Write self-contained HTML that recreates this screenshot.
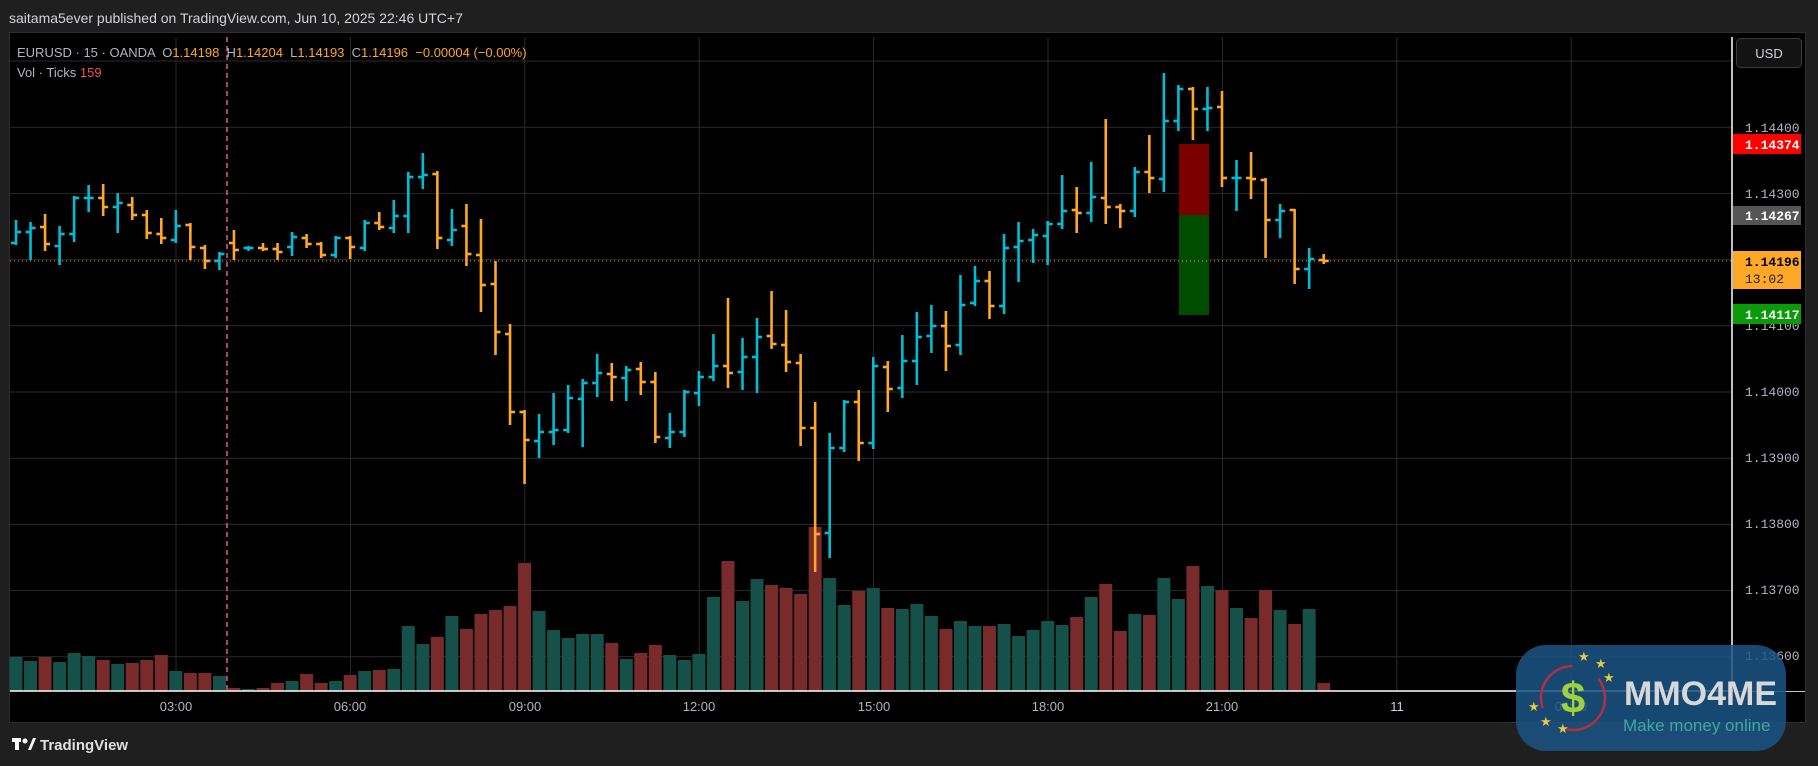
<!DOCTYPE html>
<html><head><meta charset="utf-8"><style>
html,body{margin:0;padding:0;background:#1f1f1f;}
body{width:1818px;height:766px;overflow:hidden;position:relative;font-family:"Liberation Sans",sans-serif;}
svg{position:absolute;left:0;top:0;}
</style></head><body>
<svg id="s" width="1818" height="766" viewBox="0 0 1818 766" xmlns="http://www.w3.org/2000/svg" font-family="Liberation Sans, sans-serif">
<rect x="0" y="0" width="1818" height="766" fill="#1f1f1f"/>
<text x="9" y="23" font-size="14" fill="#d1d4dc">saitama5ever published on TradingView.com, Jun 10, 2025 22:46 UTC+7</text>
<rect x="9.5" y="32.5" width="1796" height="690" fill="#000" stroke="#2e2e2e"/>
<g id="grid" stroke="#2a2a2a" stroke-width="1"></g>
<line x1="227" y1="37" x2="227" y2="691" stroke="#e0608a" stroke-width="1.5" stroke-dasharray="5,4"/>
<g id="vol"></g>
<rect x="1179" y="144" width="30" height="71" fill="#7a0000"/>
<rect x="1179" y="215" width="30" height="100" fill="#004d00"/>
<line x1="10" y1="261" x2="1732" y2="261" stroke="#ffa726" stroke-width="1" stroke-dasharray="1,3"/>
<g id="bars" stroke-width="2.6"></g>
<line x1="10" y1="691" x2="1805" y2="691" stroke="#ffffff" stroke-width="1.5"/>
<line x1="1732" y1="37" x2="1732" y2="691" stroke="#ffffff" stroke-width="1.5"/>
<rect x="1733" y="37" width="72" height="654" fill="#000"/>
<rect x="1736.5" y="38.5" width="65" height="29" rx="4" fill="#131313" stroke="#3a3a3a"/>
<text x="1769" y="58" font-size="13" fill="#d1d4dc" text-anchor="middle">USD</text>
<g font-size="13" fill="#b2b5be" font-family="Liberation Mono, monospace">
<text x="1745" y="132">1.14400</text>
<text x="1745" y="198">1.14300</text>
<text x="1745" y="330">1.14100</text>
<text x="1745" y="396">1.14000</text>
<text x="1745" y="462">1.13900</text>
<text x="1745" y="528">1.13800</text>
<text x="1745" y="594">1.13700</text>
<text x="1745" y="660">1.13600</text>
</g>
<g font-size="13" font-weight="bold" font-family="Liberation Mono, monospace">
<rect x="1733" y="134" width="68" height="20" fill="#f00"/><text x="1745" y="149" fill="#fff">1.14374</text>
<rect x="1733" y="206" width="68" height="19" fill="#555"/><text x="1745" y="220" fill="#fff">1.14267</text>
<rect x="1733" y="251" width="68" height="38" fill="#ffa726"/><text x="1745" y="266" fill="#000">1.14196</text><text x="1745" y="283" fill="#222" font-weight="normal">13:02</text>
<rect x="1733" y="304" width="68" height="20" fill="#0a9a0a"/><text x="1745" y="319" fill="#fff">1.14117</text>
</g>
<g font-size="13" fill="#b2b5be" text-anchor="middle">
<text x="176" y="711">03:00</text><text x="350" y="711">06:00</text><text x="525" y="711">09:00</text><text x="699" y="711">12:00</text><text x="874" y="711">15:00</text><text x="1048" y="711">18:00</text><text x="1222" y="711">21:00</text><text x="1397" y="711" fill="#d1d4dc">11</text><text x="1571" y="711">03:00</text>
</g>
<text x="17" y="57" font-size="13" fill="#b2b5be" xml:space="preserve">EURUSD · 15 · OANDA  O<tspan fill="#ffa726">1.14198</tspan>  H<tspan fill="#ffa726">1.14204</tspan>  L<tspan fill="#ffa726">1.14193</tspan>  C<tspan fill="#ffa726">1.14196</tspan>  <tspan fill="#ffa726">−0.00004 (−0.00%)</tspan></text>
<text x="17" y="77" font-size="13" fill="#b2b5be">Vol · Ticks <tspan fill="#f05350">159</tspan></text>
<g transform="translate(12,736)">
<rect x="0" y="2" width="9" height="4" fill="#fff"/><rect x="3" y="2" width="4" height="12" fill="#fff"/><circle cx="13" cy="5" r="2.5" fill="#fff"/><path d="M16 14 L21 2 L24 2 L19 14Z" fill="#fff"/>
<text x="28" y="14" font-size="15" font-weight="bold" fill="#e0e0e0">TradingView</text>
</g>
<g>
<rect x="1516" y="645" width="270" height="106" rx="30" fill="#1a5585" fill-opacity="0.85"/>
<circle cx="1573" cy="698" r="32" fill="none" stroke="#b03040" stroke-width="2.5" stroke-dasharray="60,30"/>
<text x="1573" y="713" font-size="44" font-weight="bold" fill="#9fd23a" text-anchor="middle">$</text>
<g fill="#e8c840" font-size="13"><text x="1578" y="661">★</text><text x="1595" y="668">★</text><text x="1603" y="682">★</text><text x="1528" y="711">★</text><text x="1540" y="726">★</text><text x="1557" y="733">★</text></g>
<text x="1624" y="705" font-size="34" font-weight="bold" fill="#d8d8d8">MMO4ME</text>
<text x="1623" y="731" font-size="17" fill="#3fa8a0">Make money online</text>
</g>
</svg>
<script>
(function(){
var NS="http://www.w3.org/2000/svg";
function el(p,t,a){var e=document.createElementNS(NS,t);for(var k in a)e.setAttribute(k,a[k]);p.appendChild(e);return e;}
var g=document.getElementById('grid');
for(var y=61;y<691;y+=66.2)el(g,'line',{x1:10,x2:1732,y1:y,y2:y});
for(var i=0;i<9;i++){var x=176+i*174.4;el(g,'line',{x1:x,x2:x,y1:37,y2:691});}
var D=[[221,244,243,232],[223,259,232,228],[215,250,227,244],[227,264,246,234],[197,241,234,198],[186,211,198,198],[185,215,198,207],[194,232,207,203],[198,219,205,215],[211,238,215,233],[219,243,234,238],[211,242,240,226],[224,259,225,247],[246,268,248,261],[253,269,261,254],[231,259,243,250],[247,250,248,248],[244,250,248,249],[244,259,249,252],[233,255,247,237],[235,247,238,244],[243,257,244,255],[237,257,255,238],[237,258,238,247],[221,250,248,223],[213,229,223,227],[201,232,228,216],[173,232,216,177],[154,188,177,175],[172,248,174,238],[210,245,240,230],
[205,265,226,254],[220,311,255,285],[262,354,284,332],[325,424,334,412],[411,483,412,440],[415,457,441,432],[394,444,432,430],[386,432,430,398],[380,446,399,383],[355,396,383,373],[364,400,374,377],[367,400,378,370],[363,394,369,382],[373,442,382,437],[414,447,438,432],[391,436,432,392],[372,405,393,377],[335,380,377,366],[299,387,366,373],[339,389,372,357],[319,392,357,337],[292,348,336,344],[311,371,345,362],[355,445,363,428],[403,571,428,534],[434,557,533,448],[401,451,448,402],[391,460,402,443],[358,448,443,366],[362,411,367,389],
[336,397,388,361],[313,384,361,337],[306,352,336,326],[312,370,326,346],[276,354,345,305],[267,305,303,281],[272,318,281,306],[235,313,306,248],[223,281,247,241],[230,262,240,235],[222,264,236,224],[176,228,224,211],[188,232,210,213],[163,221,213,197],[120,223,198,207],[205,227,207,211],[168,216,211,172],[136,192,172,178],[74,191,179,121],[86,130,121,89],[88,139,89,109],[88,130,109,108],[92,186,107,178],[161,210,178,178],[153,198,178,179],[179,257,180,220],[205,237,220,211],[210,283,210,269],[249,288,269,259],[255,263,260,261]];
var V=[321,333,321,336,309,318,330,342,339,330,315,363,369,369,378,414,417,414,399,393,372,399,393,375,363,360,357,228,282,261,198,237,192,180,168,39,183,240,264,252,252,279,327,309,285,315,330,312,141,33,153,87,105,114,132,-69,84,165,123,114,174,177,162,198,237,213,228,228,222,258,240,213,225,201,141,102,243,192,195,84,147,48,108,120,174,204,120,180,222,177,399];
var vb=document.getElementById('vol'),bb=document.getElementById('bars');
for(var i=0;i<D.length;i++){
 var x=16+i*14.53,d=D[i];
 var isRed=(d[3]>d[2]);
 if(i<V.length){var vt=550+V[i]/3;el(vb,'rect',{x:x-6.5,y:vt,width:13,height:691-vt,fill:isRed?'#792a2a':'#155049'});}
 var c=isRed?'#ffa726':'#00bcd4';
 el(bb,'line',{x1:x,x2:x,y1:d[0]-1,y2:d[1]+1,stroke:c});
 el(bb,'line',{x1:x-5,x2:x,y1:d[2],y2:d[2],stroke:c});
 el(bb,'line',{x1:x,x2:x+5,y1:d[3],y2:d[3],stroke:c});
}
})();
</script>
</body></html>
